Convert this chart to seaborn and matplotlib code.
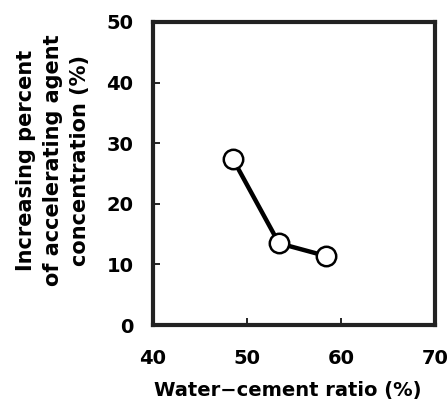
import matplotlib
matplotlib.use("Agg")
import matplotlib.pyplot as plt
import seaborn as sns
import pandas as pd

# Data
wc_ratio = [48.5, 53.4, 58.4]
increase_pct = [27.4, 13.5, 11.4]
x_ticks = [40, 50, 60, 70]
y_ticks = [0, 10, 20, 30, 40, 50]

df = pd.DataFrame({"wc": wc_ratio, "inc": increase_pct})

sns.set_theme(style="ticks")
plt.rcParams['font.family'] = ['DejaVu Sans']

fig = plt.figure(figsize=(4.48, 4.11), dpi=100)
ax = fig.add_axes([0.3415, 0.209, 0.6295, 0.7375])

sns.lineplot(data=df, x="wc", y="inc", ax=ax, color="black", linewidth=3.2,
             marker="o", markersize=14, markerfacecolor="white",
             markeredgecolor="black", markeredgewidth=1.8)

ax.set_xlim(40, 70)
ax.set_ylim(0, 50)
ax.set_xticks(x_ticks)
ax.set_yticks(y_ticks)
ax.tick_params(axis="both", direction="in", length=5, width=1.2,
               labelsize=14, colors="black")
ax.tick_params(axis="x", pad=17)
ax.tick_params(axis="y", pad=14)
for lab in ax.get_xticklabels() + ax.get_yticklabels():
    lab.set_fontweight("bold")
for side in ["top", "bottom", "left", "right"]:
    ax.spines[side].set_visible(True)
    ax.spines[side].set_linewidth(3.0)
    ax.spines[side].set_color("#222222")

ax.set_xlabel("")
ax.set_ylabel("")
fig.text(0.643, 0.051, "Water\u2212cement ratio (%)", ha="center", va="center",
         fontsize=14, fontweight="bold", color="black")
fig.text(0.118, 0.61,
         "Increasing percent\nof accelerating agent\nconcentration (%)",
         ha="center", va="center", rotation=90, fontsize=15,
         fontweight="bold", linespacing=1.45, color="black")

fig.savefig("out.png", dpi=100)
